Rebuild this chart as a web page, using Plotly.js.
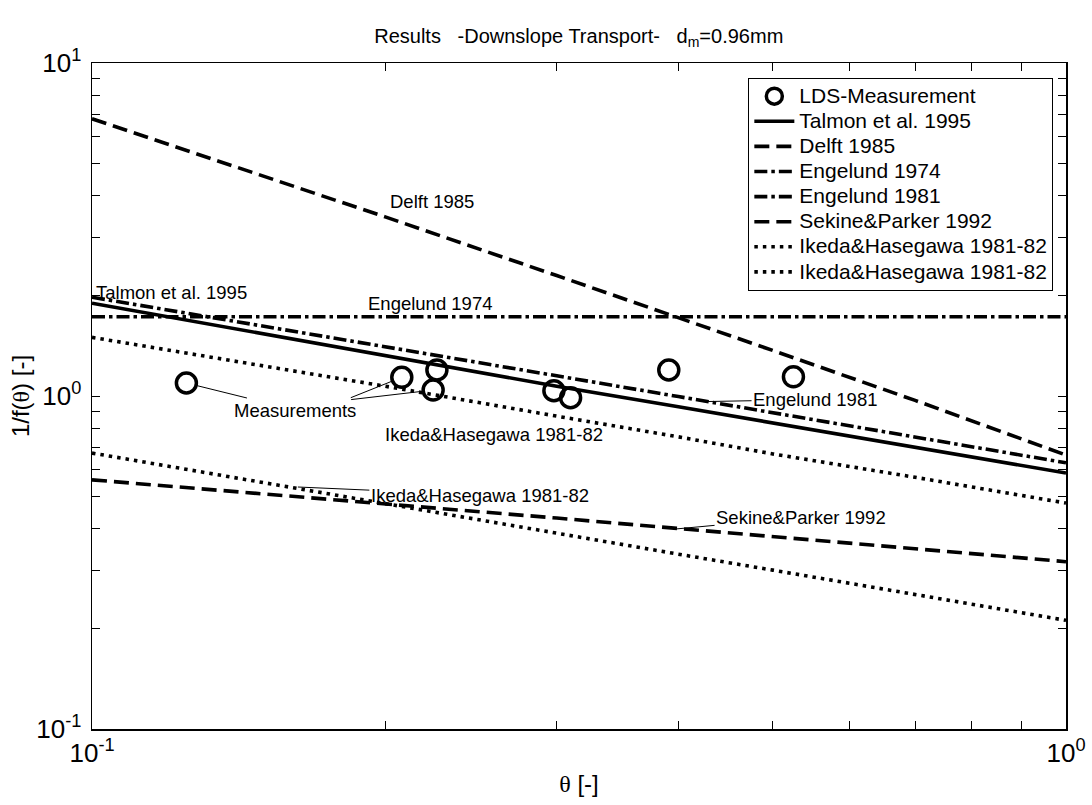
<!DOCTYPE html>
<html>
<head>
<meta charset="utf-8">
<script src="https://cdn.plot.ly/plotly-3.0.1.min.js"></script>
<style>html,body{margin:0;padding:0;background:#fff;}#chart{width:1092px;height:805px;}</style>
</head>
<body>
<div id="chart"></div>
<script>
// Measurements (LDS)
const thetaMeas = [0.125, 0.208, 0.226, 0.224, 0.298, 0.310, 0.391, 0.525];
const fMeas     = [1.094, 1.138, 1.197, 1.042, 1.037, 0.988, 1.197, 1.142];

// Model curves, read at these theta values
const thetaLine   = [0.1, 0.2, 0.3, 0.4, 0.5, 0.7, 1.0];
const talmon      = [1.90, 1.32, 1.07, 0.928, 0.83, 0.70, 0.587];
const delft       = [6.8, 3.45, 2.30, 1.72, 1.37, 0.97, 0.665];
const engelund74  = [1.73, 1.73, 1.73, 1.73, 1.73, 1.73, 1.73];
const engelund81  = [1.98, 1.41, 1.15, 0.996, 0.89, 0.75, 0.63];
const sekine      = [0.56, 0.475, 0.43, 0.40, 0.378, 0.348, 0.318];
const ikedaUpper  = [1.50, 1.07, 0.87, 0.754, 0.67, 0.57, 0.477];
const ikedaLower  = [0.674, 0.475, 0.385, 0.335, 0.30, 0.253, 0.212];

const legendNames = ['LDS-Measurement','Talmon et al. 1995','Delft 1985','Engelund 1974','Engelund 1981','Sekine&Parker 1992','Ikeda&Hasegawa 1981-82','Ikeda&Hasegawa 1981-82'];

const xMajor = [0.1, 1];
const xMajorText = ['10<sup>-1</sup>','10<sup>0</sup>'];
const xMinor = [0.2,0.3,0.4,0.5,0.6,0.7,0.8,0.9];
const yMajor = [0.1, 1, 10];
const yMajorText = ['10<sup>-1</sup>','10<sup>0</sup>','10<sup>1</sup>'];
const yMinor = [0.2,0.3,0.4,0.5,0.6,0.7,0.8,0.9,2,3,4,5,6,7,8,9];

const W = 3.6;
const DASH = '15px,7px';
const DASHDOT = '13px,4px,3.5px,4px';
const DOT = '3.5px,5px';

function legName(s){ return '<span style="font-size:21px">' + s + '</span>'; }
function line(y, name, dash){
  return {x: thetaLine, y: y, name: legName(name), type:'scatter', mode:'lines',
    line:{color:'#000', width:W, dash:dash}};
}

const traces = [
  {x: thetaMeas, y: fMeas, name: legName(legendNames[0]), type:'scatter', mode:'markers',
   marker:{symbol:'circle-open', size:20, color:'#000', line:{width:3.5, color:'#000'}}},
  line(talmon, legendNames[1], 'solid'),
  line(delft, legendNames[2], DASH),
  line(engelund74, legendNames[3], DASHDOT),
  line(engelund81, legendNames[4], DASHDOT),
  line(sekine, legendNames[5], DASH),
  line(ikedaUpper, legendNames[6], DOT),
  line(ikedaLower, legendNames[7], DOT)
];

const annFont = {family:'Liberation Sans, Arial, sans-serif', size:18.5, color:'#000'};
function lbl(x, y, text, opts){
  return Object.assign({x:Math.log10(x), y:Math.log10(y), xref:'x', yref:'y', text:text,
    showarrow:false, font:annFont}, opts||{});
}
function lead(x, y, text, ax, ay, standoff){
  return {x:Math.log10(x), y:Math.log10(y), xref:'x', yref:'y', text:text, font:annFont,
    showarrow:true, arrowhead:0, arrowwidth:1, arrowcolor:'#000', ax:ax, ay:ay, standoff:standoff||0};
}

const annotations = [
  {x:0, xref:'paper', y:Math.log10(2.05), yref:'y', text:'Talmon et al. 1995', showarrow:false,
   xanchor:'left', xshift:2, font:annFont},
  lbl(0.2223, 1.90, 'Engelund 1974'),
  lbl(0.2234, 3.85, 'Delft 1985'),
  lbl(0.199, 0.764, 'Ikeda&Hasegawa 1981-82', {xanchor:'left'}),
  lead(0.125, 1.094, 'Measurements', 109, 27, 10),
  lead(0.208, 1.138, ' ', -55, 22, 10),
  lead(0.224, 1.042, ' ', -86, 10, 10),
  lead(0.424, 0.962, 'Engelund 1981', 112, -2),
  lead(0.1627, 0.533, 'Ikeda&Hasegawa 1981-82', 182, 8),
  lead(0.395, 0.398, 'Sekine&Parker 1992', 128, -12)
];

const tickFont = {family:'Liberation Sans, Arial, sans-serif', size:26, color:'#000'};
function axis(extra){
  return Object.assign({
    type:'log', showgrid:false, zeroline:false, showline:true, linecolor:'#000', linewidth:1.5,
    mirror:'ticks', ticks:'inside', ticklen:8, tickwidth:1, tickcolor:'#000',
    tickmode:'array', tickfont:tickFont
  }, extra);
}

const layout = {
  width:1092, height:805,
  margin:{l:92, r:26, t:63, b:76},
  paper_bgcolor:'#fff', plot_bgcolor:'#fff',
  font:{family:'Liberation Sans, Arial, sans-serif', color:'#000'},
  title:{text:'Results\u00A0\u00A0\u00A0-Downslope Transport-\u00A0\u00A0\u00A0d<sub>m</sub>=0.96mm',
    x:0.53, xanchor:'center', y:0.955, yanchor:'middle',
    font:{family:'Liberation Sans, Arial, sans-serif', size:20, color:'#000'}},
  xaxis:axis({range:[-1,0], tickvals:xMajor, ticktext:xMajorText,
    minor:{tickmode:'array', tickvals:xMinor, ticks:'inside', ticklen:8, tickwidth:1, tickcolor:'#000', showgrid:false},
    title:{text:'<span style="font-family:Liberation Serif">θ</span> [-]', standoff:8,
      font:{family:'Liberation Sans, Arial, sans-serif', size:24, color:'#000'}}}),
  yaxis:axis({range:[-1,1], tickvals:yMajor, ticktext:yMajorText,
    minor:{tickmode:'array', tickvals:yMinor, ticks:'inside', ticklen:8, tickwidth:1, tickcolor:'#000', showgrid:false},
    ticklabelstandoff:4,
    title:{text:'1/f(<span style="font-family:Liberation Serif">θ</span>) [-]', standoff:0,
      font:{family:'Liberation Sans, Arial, sans-serif', size:24, color:'#000'}}}),
  legend:{x:0.987, xanchor:'right', y:0.978, yanchor:'top', bgcolor:'#fff',
    bordercolor:'#000', borderwidth:1, font:{family:'Liberation Sans, Arial, sans-serif', size:17, color:'#000'},
    tracegroupgap:0, itemwidth:40},
  showlegend:true,
  annotations:annotations
};

Plotly.newPlot('chart', traces, layout, {displayModeBar:false, staticPlot:true});
</script>
</body>
</html>
